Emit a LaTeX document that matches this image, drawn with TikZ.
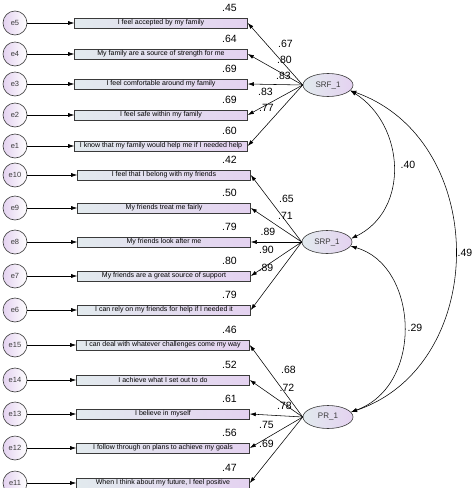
\documentclass[tikz,border=0pt]{standalone}
\usepackage{fontspec}
\setmainfont{Liberation Sans}
\usetikzlibrary{shapes.geometric,arrows.meta}
\definecolor{lav}{HTML}{E4D2F0}
\definecolor{bluegray}{HTML}{E2EAEE}
\definecolor{edgec}{HTML}{3A3A3A}
\tikzset{
 errc/.style={circle, draw=edgec, line width=0.6pt, minimum size=24pt, inner sep=0pt, left color=lav, right color=white, text=edgec, font=\fontsize{7.5}{8}\selectfont},
 obs/.style={rectangle, draw=edgec, line width=0.6pt, minimum width=173pt, minimum height=10pt, inner sep=0pt, left color=bluegray, right color=lav, text=black, font=\fontsize{7}{8}\selectfont},
 lat/.style={ellipse, draw=edgec, line width=0.6pt, minimum width=50pt, minimum height=23pt, inner sep=0pt, left color=bluegray, right color=lav, text=edgec, font=\fontsize{8}{9}\selectfont},
 arr/.style={-{Latex[length=6pt,width=4pt]}, line width=0.55pt, draw=black},
 cov/.style={{Latex[length=6pt,width=4pt]}-{Latex[length=6pt,width=4pt]}, line width=0.55pt, draw=black},
 num/.style={font=\fontsize{10.5}{12}\selectfont, inner sep=0pt},
}
\begin{document}
\begin{tikzpicture}[x=1pt,y=-1pt]
\useasboundingbox (0,0) rectangle (474,488);
% latent variables
\node[lat] (SRF) at (328,85) {SRF\_1};
\node[lat] (SRP) at (327,242) {SRP\_1};
\node[lat] (PR) at (328,417) {PR\_1};
% observed items with errors
\foreach \e/\y/\t/\r/\cx in {
 5/23/{I feel accepted by my family}/.45/161,
 4/54/{My family are a source of strength for me}/.64/161,
 3/84/{I feel comfortable around my family}/.69/161,
 2/115/{I feel safe within my family}/.69/161,
 1/146/{I know that my family would help me if I needed help}/.60/161,
 10/175/{I feel that I belong with my friends}/.42/164,
 9/208/{My friends treat me fairly}/.50/164,
 8/242/{My friends look after me}/.79/164,
 7/276/{My friends are a great source of support}/.80/164,
 6/310/{I can rely on my friends for help if I needed it}/.79/164,
 15/345/{I can deal with whatever challenges come my way}/.46/163,
 14/380/{I achieve what I set out to do}/.52/163,
 13/414/{I believe in myself}/.61/163,
 12/448/{I follow through on plans to achieve my goals}/.56/163,
 11/483/{When I think about my future, I feel positive}/.47/163}
{
 \node[errc] (e\e) at (15,\y) {e\e};
 \node[obs] (o\e) at (\cx,\y) {\t};
 \node[num, anchor=east] (r\e) at (237,\y-15) {\r};
 \draw[arr] (e\e) -- (o\e);
}
% loadings
\foreach \i in {5,4,3,2,1} { \draw[arr] (SRF.west) -- (o\i.east); }
\foreach \i in {10,9,8,7,6} { \draw[arr] (SRP.west) -- (o\i.east); }
\foreach \i in {15,14,13,12,11} { \draw[arr] (PR.west) -- (o\i.east); }
% loading labels
\node[num] (l5) at (285.5,44) {.67};
\node[num] (l4) at (284.5,60) {.80};
\node[num] (l3) at (283.5,76) {.83};
\node[num] (l2) at (265.5,92) {.83};
\node[num] (l1) at (266.5,108) {.77};
\node[num] (l10) at (286.5,198.5) {.65};
\node[num] (l9) at (285.5,216) {.71};
\node[num] (l8) at (268,232) {.89};
\node[num] (l7) at (266.5,250) {.90};
\node[num] (l6) at (266,268) {.89};
\node[num] (l15) at (288.5,370) {.68};
\node[num] (l14) at (287,388) {.72};
\node[num] (l13) at (284.5,406) {.78};
\node[num] (l12) at (266.5,425) {.75};
\node[num] (l11) at (266.5,444) {.69};
% covariances
\draw[cov] (SRF.-14) .. controls (405,125) and (410,210) .. (SRP.8);
\draw[cov] (SRF.-14) .. controls (490,140) and (490,365) .. (PR.12);
\draw[cov] (SRP.-10) .. controls (418,265) and (425,385) .. (PR.12);
\node[num] (c1) at (408,165) {.40};
\node[num] (c2) at (465,253) {.49};
\node[num] (c3) at (415,328) {.29};
\end{tikzpicture}
\end{document}
